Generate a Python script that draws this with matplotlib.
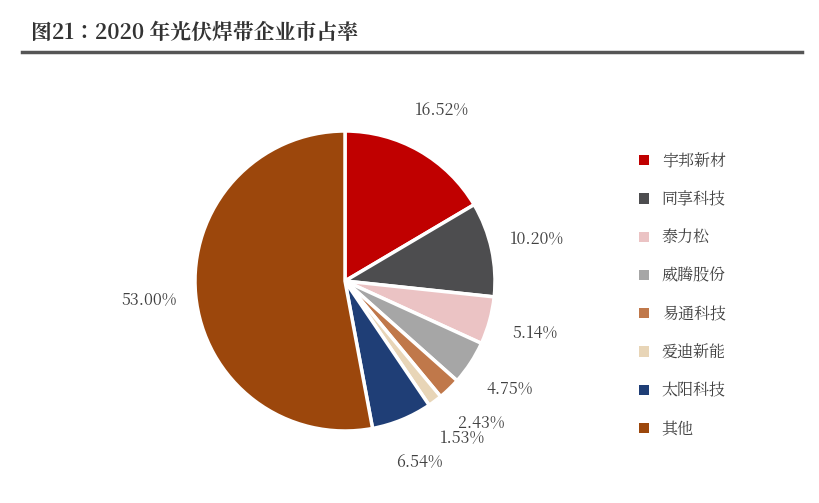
import matplotlib
matplotlib.use("Agg")
import matplotlib.pyplot as plt
from matplotlib import font_manager as fm
from matplotlib.patches import Patch
import glob

for f in glob.glob('/usr/share/fonts/**/*CJK*', recursive=True):
    try:
        fm.fontManager.addfont(f)
    except Exception:
        pass
cjk = [f.name for f in fm.fontManager.ttflist if 'CJK' in f.name]
fam = 'Noto Sans CJK SC' if 'Noto Sans CJK SC' in cjk else (cjk[0] if cjk else 'DejaVu Sans')
plt.rcParams['font.family'] = [fam, 'DejaVu Sans']

companies = ["宇邦新材", "同享科技", "泰力松", "威腾股份", "易通科技", "爱迪新能", "太阳科技", "其他"]
shares = [16.52, 10.20, 5.14, 4.75, 2.43, 1.53, 6.54, 53.00]
colors = ["#C00000", "#4D4D4F", "#EBC3C4", "#A6A6A6", "#C0784A", "#E8D5B7", "#1F3E76", "#9C470C"]

fig = plt.figure(figsize=(8.2, 5.03), dpi=100)
fig.text(0.038, 0.935, "图21：2020 年光伏焊带企业市占率", fontsize=15, fontweight='bold',
         color='#333333', va='center')
fig.add_artist(plt.Line2D([0.027, 0.978], [0.897, 0.897], color='#555555', lw=2.5))

ax = fig.add_axes([195/820, 72/503, 300/820, 300/503])
wedges, texts = ax.pie(shares, colors=colors, startangle=90, counterclock=False,
                       labels=[f"{v:.2f}%" for v in shares], labeldistance=1.31,
                       wedgeprops=dict(edgecolor='white', linewidth=2.5),
                       textprops=dict(fontsize=11.5, color='#404040'))
for t in texts:
    t.set_ha('center'); t.set_va('center')
ax.set_xlim(-1, 1); ax.set_ylim(-1, 1); ax.set_aspect('equal')

handles = [Patch(facecolor=c, edgecolor='none') for c in colors]
fig.legend(handles, companies, loc='upper left', bbox_to_anchor=(625/820, 1 - 138/503),
           frameon=False, fontsize=11.5, labelspacing=1.3, handlelength=0.6, handleheight=0.6,
           handletextpad=0.8, labelcolor='#404040')
fig.savefig("out.png", dpi=100)
